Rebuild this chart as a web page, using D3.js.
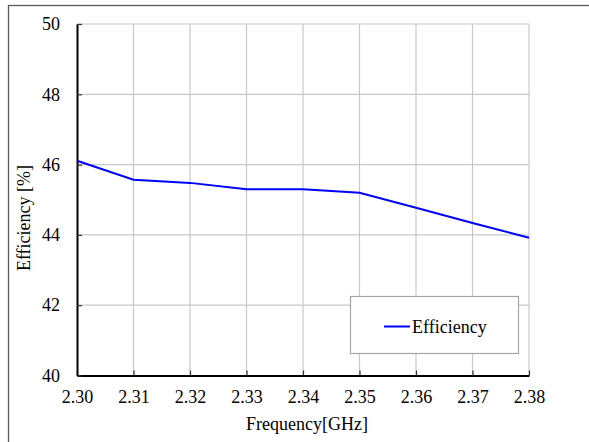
<!DOCTYPE html>
<html><head><meta charset="utf-8">
<script src="https://cdn.jsdelivr.net/npm/d3@7"></script>
<style>body{margin:0;background:#fff}svg{display:block}</style>
</head><body><svg id="c" width="589" height="442"></svg>
<script>
const frequency = [2.30, 2.31, 2.32, 2.33, 2.34, 2.35, 2.36, 2.37, 2.38];
const efficiency = [46.11, 45.57, 45.48, 45.30, 45.30, 45.20, 44.77, 44.34, 43.92];
const xTicks = [2.30, 2.31, 2.32, 2.33, 2.34, 2.35, 2.36, 2.37, 2.38];
const yTicks = [40, 42, 44, 46, 48, 50];
const seriesName = "Efficiency";
const SERIF = "Liberation Serif";

const svg = d3.select("#c");
svg.append("rect").attr("x",8.5).attr("y",5.5).attr("width",600).attr("height",460)
  .attr("fill","#fff").attr("stroke","#595959").attr("stroke-width",1.3);

const L=77,R=529,T=24,B=375.5;
const x = d3.scaleLinear().domain([2.30,2.38]).range([L,R]);
const y = d3.scaleLinear().domain([40,50]).range([B,T]);

const g = svg.append("g");
g.selectAll(".gx").data(xTicks.slice(1)).join("line")
  .attr("x1",d=>x(d)).attr("x2",d=>x(d)).attr("y1",T).attr("y2",B)
  .attr("stroke","#c8c8c8").attr("stroke-width",1.2);
g.selectAll(".gy").data(yTicks.slice(1)).join("line")
  .attr("x1",L).attr("x2",R).attr("y1",d=>y(d)).attr("y2",d=>y(d))
  .attr("stroke","#c8c8c8").attr("stroke-width",1.2);

const xAxis = d3.axisBottom(x).tickValues(xTicks).tickFormat(d3.format(".2f")).tickSizeInner(-5).tickSizeOuter(0).tickPadding(14);
const yAxis = d3.axisLeft(y).tickValues(yTicks).tickFormat(d3.format("d")).tickSizeInner(-5).tickSizeOuter(0).tickPadding(14);
const gx = svg.append("g").attr("transform",`translate(0,${B})`).call(xAxis);
const gy = svg.append("g").attr("transform",`translate(${L},0)`).call(yAxis);
[gx,gy].forEach(a=>{
  a.attr("font-family",SERIF).attr("font-size",18);
  a.select(".domain").attr("stroke","#000").attr("stroke-width",2);
  a.selectAll(".tick line").attr("stroke","#333").attr("stroke-width",1.2);
  a.selectAll(".tick text").attr("fill","#000");
});
gy.selectAll(".tick text").attr("dx",-3);
gx.selectAll(".tick text").attr("dy","0.75em");

const line = d3.line().x((d,i)=>x(frequency[i])).y(d=>y(d));
svg.append("path").datum(efficiency).attr("d",line)
  .attr("fill","none").attr("stroke","#0000ff").attr("stroke-width",2);

svg.append("text").attr("x",307).attr("y",430).attr("text-anchor","middle")
  .attr("font-family",SERIF).attr("font-size",18).text("Frequency[GHz]");
svg.append("text").attr("transform","translate(30,218) rotate(-90)").attr("text-anchor","middle")
  .attr("font-family",SERIF).attr("font-size",18).text("Efficiency [%]");

const lg = svg.append("g");
lg.append("rect").attr("x",350.5).attr("y",296.5).attr("width",168).attr("height",57)
  .attr("fill","#fff").attr("stroke","#a6a6a6").attr("stroke-width",1.2);
lg.append("line").attr("x1",384).attr("x2",410).attr("y1",326.5).attr("y2",326.5)
  .attr("stroke","#0000ff").attr("stroke-width",2);
lg.append("text").attr("x",412).attr("y",332.5).attr("font-family",SERIF).attr("font-size",18).text(seriesName);
</script></body></html>
